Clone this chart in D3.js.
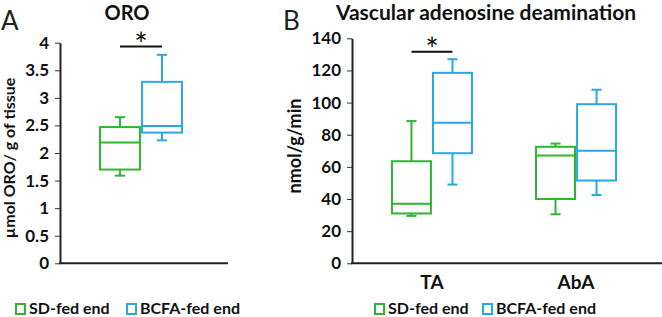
<!DOCTYPE html>
<html>
<head>
<meta charset="utf-8">
<script src="https://cdn.jsdelivr.net/npm/d3@7"></script>
<style>
  body { margin: 0; background: #fff; }
  svg text { font-family: Lato, "Open Sans", sans-serif; fill: #111; }
  .tick text { font-size: 17px; font-weight: bold; }
  .title { font-weight: bold; }
  .label { font-weight: bold; }
  .letter { font-size: 26px; fill: #222; }
  .legend text { font-size: 16px; font-weight: bold; }
</style>
</head>
<body>
<div id="container"></div>
<script>
// Groups (legend)
var groups = ["SD-fed end", "BCFA-fed end"];
var colors = ["#2fb52f", "#2aa9e1"];

// Panel A: ORO, box stats [min, q1, median, q3, max] for each group
var oroStats = [[1.59, 1.70, 2.19, 2.47, 2.65],
                [2.23, 2.37, 2.49, 3.29, 3.78]];
var oroTicks = [0, 0.5, 1, 1.5, 2, 2.5, 3, 3.5, 4];
var oroSig = 3.93;

// Panel B: vascular adenosine deamination, per category
var adaCategories = ["TA", "AbA"];
var adaSD = [[29.5, 31, 37, 63.5, 88.5],
             [30.5, 40, 67, 72.5, 74.5]];
var adaBCFA = [[49, 68.5, 87.5, 118.5, 127],
               [42.5, 51.5, 70, 99, 108]];
var adaTicks = [0, 20, 40, 60, 80, 100, 120, 140];
var adaSig = 131.7;

var width = 662, height = 317;

var svg = d3.select("#container").append("svg")
            .attr("width", width).attr("height", height);

// Draws one box (with whiskers) for stats s at center cx
function drawBox(g, y, cx, w, s, color) {
  var cap = 10;
  var b = g.append("g").attr("stroke", color).attr("stroke-width", 2).attr("fill", "none");
  b.append("line").attr("x1", cx).attr("x2", cx).attr("y1", y(s[3])).attr("y2", y(s[4]));
  b.append("line").attr("x1", cx).attr("x2", cx).attr("y1", y(s[1])).attr("y2", y(s[0]));
  b.append("line").attr("x1", cx - cap/2).attr("x2", cx + cap/2).attr("y1", y(s[4])).attr("y2", y(s[4]));
  b.append("line").attr("x1", cx - cap/2).attr("x2", cx + cap/2).attr("y1", y(s[0])).attr("y2", y(s[0]));
  b.append("rect").attr("x", cx - w/2).attr("y", y(s[3]))
   .attr("width", w).attr("height", y(s[1]) - y(s[3])).attr("fill", "#fff");
  b.append("line").attr("x1", cx - w/2).attr("x2", cx + w/2).attr("y1", y(s[2])).attr("y2", y(s[2]));
}

function drawYAxis(g, y, x0, ticks) {
  var ax = g.append("g").attr("transform", "translate(" + x0 + ",0)")
            .call(d3.axisLeft(y).tickValues(ticks).tickFormat(function(d){ return String(d); })
                    .tickSize(5).tickSizeOuter(0).tickPadding(6));
  ax.select(".domain").attr("stroke", "#222").attr("stroke-width", 2);
  ax.selectAll(".tick line").attr("stroke", "#333");
  ax.selectAll(".tick text").attr("fill", "#111").style("font-family", "Lato, sans-serif");
  return ax;
}

function drawSig(g, x1, x2, yv) {
  g.append("line").attr("x1", x1).attr("x2", x2).attr("y1", yv).attr("y2", yv)
   .attr("stroke", "#111").attr("stroke-width", 2);
  g.append("text").attr("x", (x1 + x2) / 2).attr("y", yv + 9).attr("text-anchor", "middle")
   .style("font-size", "32px").text("*");
}

function drawLegend(x0, y0, gap) {
  var lg = svg.append("g").attr("class", "legend").attr("transform", "translate(" + x0 + "," + y0 + ")");
  var item = lg.selectAll("g").data(groups).enter().append("g")
               .attr("transform", function(d, i){ return "translate(" + (i * gap) + ",0)"; });
  item.append("rect").attr("x", 0).attr("y", -4).attr("width", 9).attr("height", 10)
      .attr("fill", "#fff").attr("stroke", function(d, i){ return colors[i]; }).attr("stroke-width", 2);
  item.append("text").attr("x", 13).attr("y", 6).text(function(d){ return d; });
}

// ---------- Panel A ----------
var yA = d3.scaleLinear().domain([0, 4]).range([263.3, 42.7]);
var xA = d3.scaleBand().domain(["ORO"]).range([60, 228]).paddingOuter(0.02);
var subA = d3.scaleBand().domain(groups).range([-41, 41]).paddingInner(0.05);
var gA = svg.append("g");

oroStats.forEach(function(s, i) {
  var cx = xA("ORO") + xA.bandwidth() / 2 - 3 + subA(groups[i]) + subA.bandwidth() / 2;
  drawBox(gA, yA, cx, subA.bandwidth(), s, colors[i]);
});
var cA0 = xA("ORO") + xA.bandwidth() / 2 - 3 + subA(groups[0]) + subA.bandwidth() / 2;
var cA1 = xA("ORO") + xA.bandwidth() / 2 - 3 + subA(groups[1]) + subA.bandwidth() / 2;
drawSig(gA, cA0, cA1, yA(oroSig));

drawYAxis(gA, yA, 60, oroTicks);
gA.append("line").attr("x1", 59).attr("x2", 228).attr("y1", yA(0)).attr("y2", yA(0))
  .attr("stroke", "#222").attr("stroke-width", 2);

svg.append("text").attr("class", "title").attr("x", 127).attr("y", 20)
   .attr("text-anchor", "middle").style("font-size", "20px").text("ORO");
svg.append("text").attr("class", "letter").attr("x", 1).attr("y", 30).text("A");
svg.append("text").attr("class", "label").attr("transform", "translate(15,158) rotate(-90)")
   .attr("text-anchor", "middle").style("font-size", "16px").text("µmol ORO/ g of tissue");
drawLegend(16, 308, 111);

// ---------- Panel B ----------
var yB = d3.scaleLinear().domain([0, 140]).range([263.3, 38.3]);
var xB = d3.scaleBand().domain(adaCategories).range([352, 656]).paddingOuter(0.055);
var subB = d3.scaleBand().domain(groups).range([-40, 40]).paddingInner(0.05);
var gB = svg.append("g");

adaCategories.forEach(function(c, k) {
  var center = xB(c) + xB.bandwidth() / 2;
  [adaSD[k], adaBCFA[k]].forEach(function(s, i) {
    drawBox(gB, yB, center + subB(groups[i]) + subB.bandwidth() / 2, subB.bandwidth(), s, colors[i]);
  });
  gB.append("text").attr("x", center).attr("y", 289).attr("text-anchor", "middle")
    .style("font-size", "19px").style("font-weight", "bold").text(c);
});
var cTA = xB("TA") + xB.bandwidth() / 2;
drawSig(gB, cTA + subB(groups[0]) + subB.bandwidth() / 2,
            cTA + subB(groups[1]) + subB.bandwidth() / 2, yB(adaSig));

drawYAxis(gB, yB, 352, adaTicks);
gB.append("line").attr("x1", 351).attr("x2", 662).attr("y1", yB(0)).attr("y2", yB(0))
  .attr("stroke", "#222").attr("stroke-width", 2);

svg.append("text").attr("class", "title").attr("x", 486).attr("y", 20)
   .attr("text-anchor", "middle").style("font-size", "21px").text("Vascular adenosine deamination");
svg.append("text").attr("class", "letter").attr("x", 283).attr("y", 30).text("B");
svg.append("text").attr("class", "label").attr("transform", "translate(301,146) rotate(-90)")
   .attr("text-anchor", "middle").style("font-size", "18px").text("nmol/g/min");
drawLegend(375, 308, 108);
</script>
</body>
</html>
